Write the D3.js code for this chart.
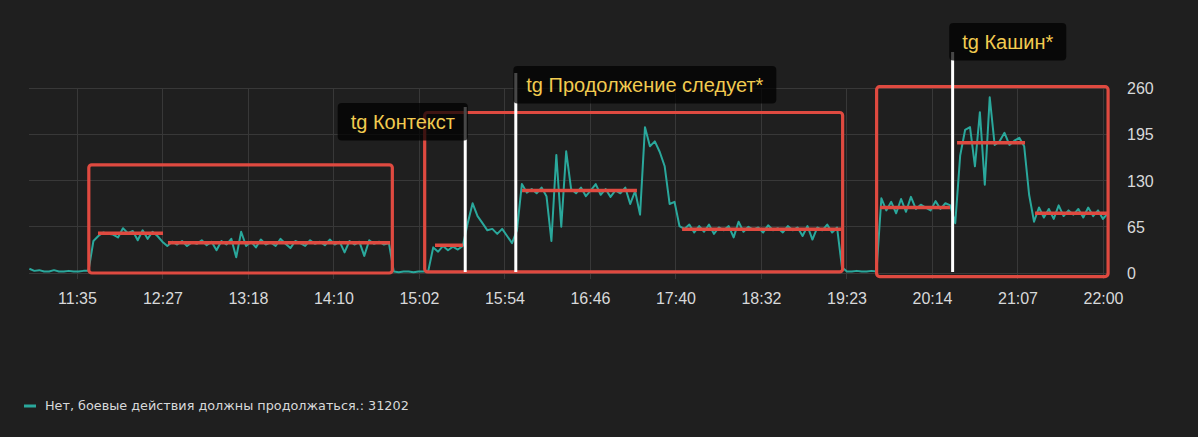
<!DOCTYPE html>
<html><head><meta charset="utf-8">
<script src="https://cdn.jsdelivr.net/npm/d3@7"></script>
<style>
html,body{margin:0;padding:0;background:#1f1f1f;}
svg{display:block}
</style></head><body>
<svg id="chart" width="1198" height="437"></svg>
<script>
// ---------- DATA ----------
const seriesName = "Нет, боевые действия должны продолжаться.";
const seriesTotal = 31202;
const seriesStart = "11:06:00";
const stepMinutes = 3;
const seriesValues = [
  6,3,4,2,2,4,2,2,3,2,2,3,3,
  45,
  52,57,55,54,50,63,56,59,46,60,48,58,52,44,38,44,
  40,45,38,43,41,46,39,44,32,45,40,48,22,58,38,44,36,47,40,43,38,48,41,35,45,42,38,46,41,44,39,47,40,44,29,45,40,44,24,46,41,44,40,42,
  2,1,2,2,1,2,2,3,
  36,30,38,32,37,33,38,
  70,98,80,70,60,62,55,62,52,42,60,125,113,
  118,112,120,108,45,166,65,171,118,
  112,120,108,116,125,110,118,107,116,112,120,97,115,
  82,205,178,185,170,150,97,100,66,
  62,68,57,66,58,68,55,64,60,66,50,72,58,65,61,64,57,67,60,63,57,66,60,64,52,66,47,64,60,68,57,64,8,2,
  2,3,2,2,3,2,
  105,88,100,84,104,86,107,90,96,92,88,101,90,98,95,70,165,
  201,205,150,226,124,247,180,185,197,180,186,190,178,110,72,92,
  78,90,76,95,80,88,82,90,78,92,80,88,76,84
];
const xDomain = ["11:05:46", "22:03:03"];
const xTickFirst = "11:35:00", xTickLast = "22:00:00";
const xTickLabels = ["11:35","12:27","13:18","14:10","15:02","15:54","16:46","17:40","18:32","19:23","20:14","21:07","22:00"];
const yTickValues = [0, 65, 130, 195, 260];

// region rectangles (time range, value range)
const regionStarts = ["11:42:12", "15:06:48", "19:42:06"];
const regionEnds   = ["14:47:06", "19:21:24", "22:03:06"];
const regionLows   = [0, 1.5, -5];
const regionHighs  = [152, 225.6, 261.8];

// mean lines
const meanStarts = ["11:47:48","12:30:24","15:13:06","16:06:06","17:43:36","19:44:12","20:31:06","21:18:36"];
const meanEnds   = ["12:27:24","14:45:42","15:30:06","17:16:06","19:20:24","20:26:48","21:12:30","22:03:06"];
const meanValues = [56, 42.5, 39, 116, 61.5, 92, 183, 84];

// annotations
const annotationTimes = ["15:31:30", "16:02:18", "20:28:24"];
const annotationTexts = ["tg Контекст", "tg Продолжение следует*", "tg Кашин*"];

// ---------- LAYOUT ----------
const W = 1198, H = 437;
const plot = {left: 29, right: 1108, top: 88, bottom: 273};
const annLayout = [
  {lineTop: 107, boxTop: 103, side: "left",  dx: 2.7},
  {lineTop: 73,  boxTop: 66,  side: "right", dx: -2.5},
  {lineTop: 52,  boxTop: 23,  side: "right", dx: -3.4}
];
const C = {
  bg: "#1f1f1f", grid: "#383838", text: "#d8d9da", teal: "#2aa89c",
  red: "#df4a40", white: "#ffffff", annText: "#f2cb50"
};

const parse = d3.timeParse("%H:%M:%S");
const svg = d3.select("#chart");
svg.append("rect").attr("width", W).attr("height", H).attr("fill", C.bg);

const x = d3.scaleTime().domain(xDomain.map(parse)).range([plot.left, plot.right]);
const y = d3.scaleLinear().domain([0, 260]).range([plot.bottom, plot.top]);

const t0 = parse(xTickFirst), t1 = parse(xTickLast);
const xTickValues = d3.range(xTickLabels.length).map(i =>
  new Date(+t0 + (t1 - t0) * i / (xTickLabels.length - 1)));

// grid
const g = svg.append("g");
g.selectAll("line.h").data(yTickValues).join("line")
  .attr("x1", plot.left).attr("x2", plot.right)
  .attr("y1", d => y(d)).attr("y2", d => y(d))
  .attr("stroke", C.grid).attr("stroke-width", 1).attr("shape-rendering", "crispEdges");

// x axis
const xAxis = d3.axisBottom(x).tickValues(xTickValues)
  .tickFormat((d, i) => xTickLabels[i])
  .tickSize(-(plot.bottom - plot.top) - 6).tickSizeOuter(0).tickPadding(0);
const xg = svg.append("g").attr("transform", `translate(0,${plot.bottom + 6})`).call(xAxis);
xg.select(".domain").remove();
xg.selectAll(".tick line").attr("stroke", C.grid).attr("shape-rendering", "crispEdges");
xg.selectAll(".tick text").attr("fill", C.text)
  .attr("font-family", "'Liberation Sans', Arial, sans-serif").attr("font-size", 16)
  .attr("y", 25).attr("dy", "0");

// y axis
const yAxis = d3.axisRight(y).tickValues(yTickValues).tickSize(0).tickPadding(0);
const yg = svg.append("g").attr("transform", `translate(${plot.right + 19},0)`).call(yAxis);
yg.select(".domain").remove();
yg.selectAll(".tick text").attr("fill", C.text)
  .attr("font-family", "'Liberation Sans', Arial, sans-serif").attr("font-size", 16)
  .attr("x", 0).attr("dy", "0.35em");

// series
const tStart = parse(seriesStart);
const series = seriesValues.map((v, i) => ({t: new Date(+tStart + i * stepMinutes * 60000), v}));
const line = d3.line().x(d => x(d.t)).y(d => y(d.v));
svg.append("path").datum(series).attr("d", line)
  .attr("fill", "none").attr("stroke", C.teal).attr("stroke-width", 2)
  .attr("stroke-linejoin", "round");

// mean lines
svg.selectAll("line.mean").data(meanValues).join("line")
  .attr("x1", (d, i) => x(parse(meanStarts[i])))
  .attr("x2", (d, i) => x(parse(meanEnds[i])))
  .attr("y1", d => y(d)).attr("y2", d => y(d))
  .attr("stroke", C.red).attr("stroke-width", 3.5);

// region rects
svg.selectAll("rect.region").data(regionStarts).join("rect")
  .attr("x", (d, i) => x(parse(d)))
  .attr("width", (d, i) => x(parse(regionEnds[i])) - x(parse(d)))
  .attr("y", (d, i) => y(regionHighs[i]))
  .attr("height", (d, i) => y(regionLows[i]) - y(regionHighs[i]))
  .attr("rx", 3).attr("fill", "none").attr("stroke", C.red).attr("stroke-width", 3.2);

// annotations
annotationTimes.forEach((tt, i) => {
  const ax = x(parse(tt));
  const L = annLayout[i];
  svg.append("line").attr("x1", ax).attr("x2", ax)
    .attr("y1", L.lineTop).attr("y2", y(0) - 1)
    .attr("stroke", C.white).attr("stroke-width", 3);
  const grp = svg.append("g");
  const box = grp.append("rect");
  const txt = grp.append("text").text(annotationTexts[i])
    .attr("font-family", "'Liberation Sans', Arial, sans-serif").attr("font-size", 20)
    .attr("fill", C.annText);
  const tw = txt.node().getComputedTextLength();
  const bw = tw + 26, bh = 37.5;
  const bx = L.side === "left" ? ax + L.dx - bw : ax + L.dx;
  box.attr("x", bx).attr("y", L.boxTop).attr("width", bw).attr("height", bh)
    .attr("rx", 4).attr("fill", "#000").attr("fill-opacity", 0.72);
  txt.attr("x", bx + 13).attr("y", L.boxTop + 26);
});

// legend
svg.append("rect").attr("x", 24).attr("y", 404.5).attr("width", 12).attr("height", 3).attr("fill", C.teal);
svg.append("text").attr("x", 45).attr("y", 406).attr("dy", "0.35em")
  .attr("font-family", "'DejaVu Sans', sans-serif").attr("font-size", 12.8)
  .attr("fill", C.text).text(`${seriesName}: ${seriesTotal}`);
</script>
</body></html>
